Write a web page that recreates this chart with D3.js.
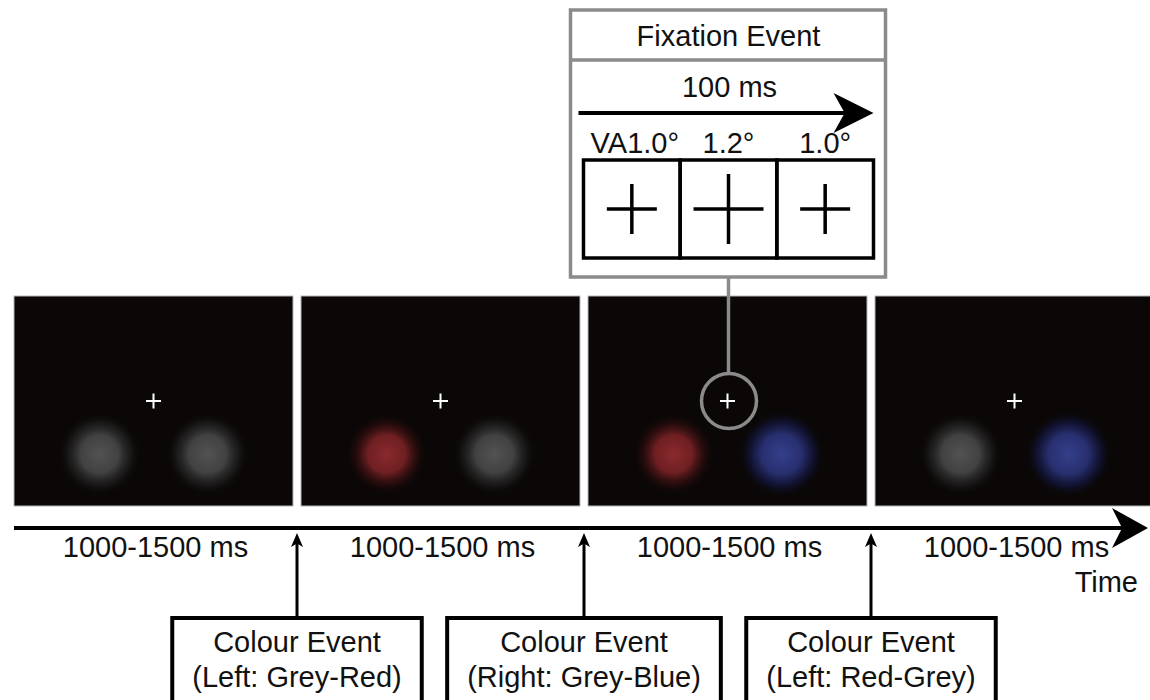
<!DOCTYPE html>
<html>
<head>
<meta charset="utf-8">
<script src="https://cdn.jsdelivr.net/npm/d3@7"></script>
<style>
  body { margin: 0; background: #fff; }
  text { font-family: 'Liberation Sans', Arial, Helvetica, sans-serif; fill: #111; }
</style>
</head>
<body>
<script>
// trial sequence: one panel per stimulus display
const panelIds = [0, 1, 2, 3]
const durations = ['1000-1500 ms', '1000-1500 ms', '1000-1500 ms', '1000-1500 ms']
const leftStim = ['grey', 'red', 'red', 'grey']
const rightStim = ['grey', 'grey', 'blue', 'blue']

// colour events sit between the panels
const eventTitles = ['Colour Event', 'Colour Event', 'Colour Event']
const eventDetails = ['(Left: Grey-Red)', '(Right: Grey-Blue)', '(Left: Red-Grey)']

// fixation event inset
const fixationTitle = 'Fixation Event'
const fixationDuration = '100 ms'
const fixationVA = [1.0, 1.2, 1.0]
const fixationLabels = ['VA1.0°', '1.2°', '1.0°']
const fixationPanel = 2
const timeLabel = 'Time'

const width = 1150
const height = 700
const fontSize = 29

const svg = d3.select('body').append('svg')
    .attr('width', width)
    .attr('height', height)

const xPanel = d3.scaleBand()
    .domain(panelIds)
    .range([14, 1154])
    .paddingInner(8 / 287)
const panelTop = 296
const panelH = 210
const crossY = panelTop + 105
const blobY = panelTop + 158
const blobDx = 54

// radial gradients for the blurred colour patches
const stimStops = {
    grey: [['#535353', 1], ['#484848', 0.9], ['#282828', 0.5], ['#0a0706', 0]],
    red: [['#8a2a2e', 1], ['#7a2225', 0.9], ['#380e10', 0.5], ['#0a0706', 0]],
    blue: [['#34408a', 1], ['#2c347c', 0.9], ['#12143a', 0.7], ['#0a0706', 0]]
}
const defs = svg.append('defs')
Object.keys(stimStops).forEach(k => {
    const g = defs.append('radialGradient').attr('id', 'blob-' + k)
    const offs = [0, 0.45, 0.75, 1]
    stimStops[k].forEach((s, i) => {
        g.append('stop')
            .attr('offset', offs[i])
            .attr('stop-color', s[0])
            .attr('stop-opacity', s[1])
    })
})

const panels = svg.selectAll('g.panel')
    .data(panelIds)
    .enter().append('g')
    .attr('class', 'panel')
    .attr('transform', d => `translate(${xPanel(d)},${panelTop})`)

panels.append('rect')
    .attr('width', xPanel.bandwidth())
    .attr('height', panelH)
    .attr('fill', '#0a0706')
    .attr('stroke', '#b5b5b5')
    .attr('stroke-width', 1)

const pcx = xPanel.bandwidth() / 2
panels.append('circle')
    .attr('cx', pcx - blobDx)
    .attr('cy', blobY - panelTop)
    .attr('r', d => leftStim[d] === 'blue' ? 44 : 42)
    .attr('fill', d => `url(#blob-${leftStim[d]})`)
panels.append('circle')
    .attr('cx', pcx + blobDx)
    .attr('cy', blobY - panelTop)
    .attr('r', d => rightStim[d] === 'blue' ? 44 : 42)
    .attr('fill', d => `url(#blob-${rightStim[d]})`)

// white fixation cross
const fc = 7.5
panels.append('path')
    .attr('d', `M${pcx - fc},${crossY - panelTop}H${pcx + fc}M${pcx},${crossY - panelTop - fc}V${crossY - panelTop + fc}`)
    .attr('stroke', '#fff')
    .attr('stroke-width', 2)

function arrowHead(tx, ty, len, half, dir) {
    // dir: 'right' or 'up'
    if (dir === 'right') {
        return `M${tx},${ty}L${tx - len},${ty - half}L${tx - len * 0.72},${ty}L${tx - len},${ty + half}Z`
    }
    return `M${tx},${ty}L${tx - half},${ty + len}L${tx},${ty + len * 0.75}L${tx + half},${ty + len}Z`
}

// main time axis
const axisY = 528
svg.append('line')
    .attr('x1', xPanel(0)).attr('x2', 1125)
    .attr('y1', axisY).attr('y2', axisY)
    .attr('stroke', '#000').attr('stroke-width', 4)
svg.append('path')
    .attr('d', arrowHead(1148, axisY, 36, 20, 'right'))
    .attr('fill', '#000')

svg.selectAll('text.dur')
    .data(panelIds)
    .enter().append('text')
    .attr('class', 'dur')
    .attr('x', d => xPanel(d) + pcx + 2)
    .attr('y', 557)
    .attr('text-anchor', 'middle')
    .attr('font-size', fontSize)
    .text(d => durations[d])

svg.append('text')
    .attr('x', 1138)
    .attr('y', 592)
    .attr('text-anchor', 'end')
    .attr('font-size', fontSize)
    .text(timeLabel)

// colour event boxes + arrows
const eventX = eventTitles.map((t, i) => xPanel(i) + xPanel.bandwidth() + xPanel.step() * xPanel.paddingInner() / 2)
const boxTop = 618
const events = svg.selectAll('g.event')
    .data(eventTitles)
    .enter().append('g')
    .attr('class', 'event')
    .attr('transform', (d, i) => `translate(${eventX[i]},0)`)

events.append('line')
    .attr('x1', 0).attr('x2', 0)
    .attr('y1', boxTop).attr('y2', 540)
    .attr('stroke', '#000').attr('stroke-width', 3)
events.append('path')
    .attr('d', arrowHead(0, 533, 14, 6, 'up'))
    .attr('fill', '#000')

const boxRects = events.append('rect')
    .attr('y', boxTop)
    .attr('height', 90)
    .attr('fill', '#fff')
    .attr('stroke', '#000')
    .attr('stroke-width', 4)
events.append('text')
    .attr('y', 652)
    .attr('text-anchor', 'middle')
    .attr('font-size', fontSize)
    .text(d => d)
const details = events.append('text')
    .attr('y', 687)
    .attr('text-anchor', 'middle')
    .attr('font-size', fontSize)
    .text((d, i) => eventDetails[i])
details.each(function(d, i) {
    const w = this.getComputedTextLength() + 40
    d3.select(boxRects.nodes()[i]).attr('x', -w / 2).attr('width', w)
})

// fixation event inset
const fcx = xPanel(fixationPanel) + pcx
const grey = '#8b8b8b'
const boxL = fcx - 157
const boxR = fcx + 158
const boxT = 10
const boxB = 277

svg.append('line')
    .attr('x1', fcx + 1).attr('x2', fcx + 1)
    .attr('y1', boxB).attr('y2', crossY - 28)
    .attr('stroke', grey).attr('stroke-width', 3.5)
svg.append('circle')
    .attr('cx', fcx + 1.5).attr('cy', crossY)
    .attr('r', 27.5)
    .attr('fill', 'none')
    .attr('stroke', grey).attr('stroke-width', 3.5)

svg.append('rect')
    .attr('x', boxL).attr('y', boxT)
    .attr('width', boxR - boxL).attr('height', boxB - boxT)
    .attr('fill', '#fff')
    .attr('stroke', grey).attr('stroke-width', 3.5)
svg.append('line')
    .attr('x1', boxL).attr('x2', boxR)
    .attr('y1', 60).attr('y2', 60)
    .attr('stroke', grey).attr('stroke-width', 3.5)
svg.append('text')
    .attr('x', fcx + 1).attr('y', 46)
    .attr('text-anchor', 'middle')
    .attr('font-size', fontSize)
    .text(fixationTitle)
svg.append('text')
    .attr('x', fcx + 2).attr('y', 97)
    .attr('text-anchor', 'middle')
    .attr('font-size', fontSize)
    .text(fixationDuration)

svg.append('line')
    .attr('x1', boxL + 8).attr('x2', boxR - 40)
    .attr('y1', 113).attr('y2', 113)
    .attr('stroke', '#000').attr('stroke-width', 4)
svg.append('path')
    .attr('d', arrowHead(boxR - 12, 113, 40, 20, 'right'))
    .attr('fill', '#000')

const xCell = d3.scaleBand()
    .domain(fixationVA.map((d, i) => i))
    .range([boxL + 13, boxR - 12])
const crossSize = d3.scaleLinear().domain([1.0, 1.2]).range([50, 70])
const cellTop = 160
const cellBottom = 258
const cellMid = (cellTop + cellBottom) / 2

svg.selectAll('text.va')
    .data(fixationVA)
    .enter().append('text')
    .attr('class', 'va')
    .attr('x', (d, i) => xCell(i) + xCell.bandwidth() / 2 + (i === 0 ? 3 : 0))
    .attr('y', 153)
    .attr('text-anchor', 'middle')
    .attr('font-size', fontSize)
    .text((d, i) => fixationLabels[i])

svg.selectAll('rect.cell')
    .data(fixationVA)
    .enter().append('rect')
    .attr('class', 'cell')
    .attr('x', (d, i) => xCell(i))
    .attr('y', cellTop)
    .attr('width', xCell.bandwidth())
    .attr('height', cellBottom - cellTop)
    .attr('fill', 'none')
    .attr('stroke', '#000')
    .attr('stroke-width', 3.5)

svg.selectAll('path.fixcross')
    .data(fixationVA)
    .enter().append('path')
    .attr('class', 'fixcross')
    .attr('d', (d, i) => {
        const cx = xCell(i) + xCell.bandwidth() / 2
        const h = crossSize(d) / 2
        return `M${cx - h},${cellMid}H${cx + h}M${cx},${cellMid - h}V${cellMid + h}`
    })
    .attr('stroke', '#000')
    .attr('stroke-width', 3.5)
</script>
</body>
</html>
